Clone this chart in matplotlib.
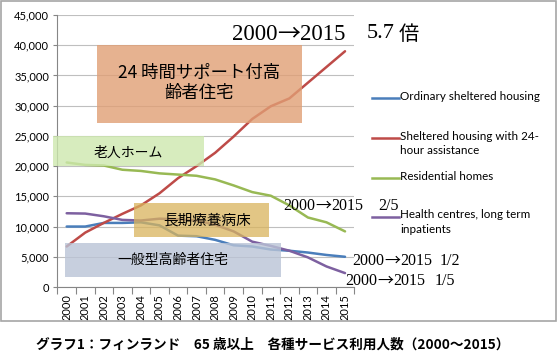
import matplotlib
matplotlib.use("Agg")
import matplotlib.pyplot as plt
from matplotlib.patches import Rectangle
from matplotlib.lines import Line2D
from matplotlib.ticker import FuncFormatter

years = [str(y) for y in range(2000, 2016)]
ordinary = [10000, 10000, 10600, 10600, 10700, 10200, 8500, 8400, 7800, 6900, 6700, 6200, 6000, 5700, 5300, 5000]
sheltered24 = [6700, 9000, 10600, 12100, 13500, 15500, 18000, 20000, 22200, 24900, 27800, 29900, 31200, 33800, 36400, 39000]
residential = [20600, 20200, 20100, 19400, 19200, 18800, 18600, 18400, 17800, 16800, 15700, 15100, 13500, 11500, 10700, 9200]
health = [12200, 12150, 11700, 11100, 11000, 11300, 11200, 11000, 10300, 9200, 7500, 6800, 6000, 4900, 3400, 2300]

series = [
    ("Ordinary sheltered housing", ordinary, "#4A7EBB"),
    ("Sheltered housing with 24-\nhour assistance", sheltered24, "#BE4B48"),
    ("Residential homes", residential, "#98B954"),
    ("Health centres, long term\ninpatients", health, "#7D60A0"),
]

W, H = 560, 358
fig = plt.figure(figsize=(W / 100, H / 100), dpi=100)
renderer = fig.canvas.get_renderer()

def fx(px):
    return px / W

def fy(py):
    return (H - py) / H

ax = fig.add_axes([fx(57.4), fy(287), fx(354.3) - fx(57.4), fy(15) - fy(287)])
x = list(range(len(years)))
for label, vals, col in series:
    ax.plot(x, vals, color=col, lw=1.8, solid_capstyle="round", zorder=3)

ax.set_xlim(-0.5, 15.5)
ax.set_ylim(0, 45000)
ax.set_yticks(range(0, 45001, 5000))
ax.yaxis.set_major_formatter(FuncFormatter(lambda v, p: f"{int(v):,}"))
ax.set_xticks(x)
ax.set_xticklabels(years, rotation=90, fontsize=8, family="Lato")
ax.set_xticks([i - 0.5 for i in range(17)], minor=True)
ax.tick_params(axis="x", which="major", length=0, pad=5)
ax.tick_params(axis="x", which="minor", length=5, color="#868686", width=0.8)
ax.tick_params(axis="y", length=3, color="#868686", labelsize=8, pad=3)
for t in ax.get_yticklabels():
    t.set_family("Lato")
ax.grid(axis="y", color="#BFBFBF", lw=0.8, zorder=0)
for s in ["top", "right"]:
    ax.spines[s].set_visible(False)
ax.spines["left"].set_color("#868686")
ax.spines["bottom"].set_color("#868686")
ax.set_axisbelow(True)

def px2x(px):
    return (px - 66.7) / 18.55

def py2y(py):
    return (287 - py) * 5000 / 30.2

def box(x0, y0, x1, y1, col, alpha):
    r = Rectangle((px2x(x0), py2y(y1)), px2x(x1) - px2x(x0), py2y(y0) - py2y(y1),
                  facecolor=col, edgecolor="none", alpha=alpha, zorder=4, clip_on=False)
    ax.add_patch(r)

box(97, 45, 302, 123, "#E09F75", 0.8)
box(53, 136, 204, 166, "#CDE8AE", 0.8)
box(134, 203, 269, 237, "#D9B45C", 0.75)
box(65, 243, 281, 277, "#BAC4D6", 0.8)

cjk = ["Noto Sans CJK JP"]
serif = ["Liberation Serif", "DejaVu Serif"]

fig.text(fx(199), fy(73), "24 時間サポート付高", ha="center", va="center", fontsize=12.5, family=cjk, zorder=6)
fig.text(fx(199), fy(93), "齢者住宅", ha="center", va="center", fontsize=12.5, family=cjk, zorder=6)
fig.text(fx(128), fy(153), "老人ホーム", ha="center", va="center", fontsize=10, family=cjk, zorder=6)
fig.text(fx(207), fy(221), "長期療養病床", ha="center", va="center", fontsize=10.5, family=cjk, zorder=6)
fig.text(fx(173), fy(260), "一般型高齢者住宅", ha="center", va="center", fontsize=10, family=cjk, zorder=6)

def span(px, py, pieces, size):
    """Draw pieces left to right starting at pixel px, vertical centre py."""
    cur = px
    for txt, fam in pieces:
        t = fig.text(fx(cur), fy(py), txt, ha="left", va="center", fontsize=size, family=fam)
        bb = t.get_window_extent(renderer)
        cur += bb.width
    return cur

def arrow_text(px, py, size):
    return span(px, py, [("2000", serif), ("→", cjk), ("2015", serif)], size)

arrow_text(232, 34, 16.5)
fig.text(fx(367), fy(34), "5.7", ha="left", va="center", fontsize=16, family=serif)
fig.text(fx(399), fy(34), "倍", ha="left", va="center", fontsize=14.5, family=cjk)

arrow_text(283, 206, 11.5)
fig.text(fx(378), fy(206), "2/5", ha="left", va="center", fontsize=11.5, family=serif)
arrow_text(352, 261, 11.5)
fig.text(fx(440), fy(261), "1/2", ha="left", va="center", fontsize=11.5, family=serif)
arrow_text(345, 281, 11.5)
fig.text(fx(435), fy(281), "1/5", ha="left", va="center", fontsize=11.5, family=serif)

leg_y = [98, 138, 178, 217]
for (label, vals, col), ly in zip(series, leg_y):
    fig.add_artist(Line2D([fx(372), fx(399)], [fy(ly), fy(ly)], color=col, lw=1.8,
                          transform=fig.transFigure))
    fig.text(fx(400), fy(ly - 7.5), label, ha="left", va="top", fontsize=8.4,
             family="Lato", linespacing=1.35)

fig.add_artist(Rectangle((fx(1), fy(321)), fx(556) - fx(1), fy(1) - fy(321),
                         facecolor="none", edgecolor="#A6A6A6", lw=1.2,
                         transform=fig.transFigure))

fig.text(fx(273), fy(345), "グラフ1：フィンランド　65 歳以上　各種サービス利用人数（2000～2015）",
         ha="center", va="center", fontsize=9.8, family=cjk, weight="bold")

fig.savefig("out.png", dpi=100)
